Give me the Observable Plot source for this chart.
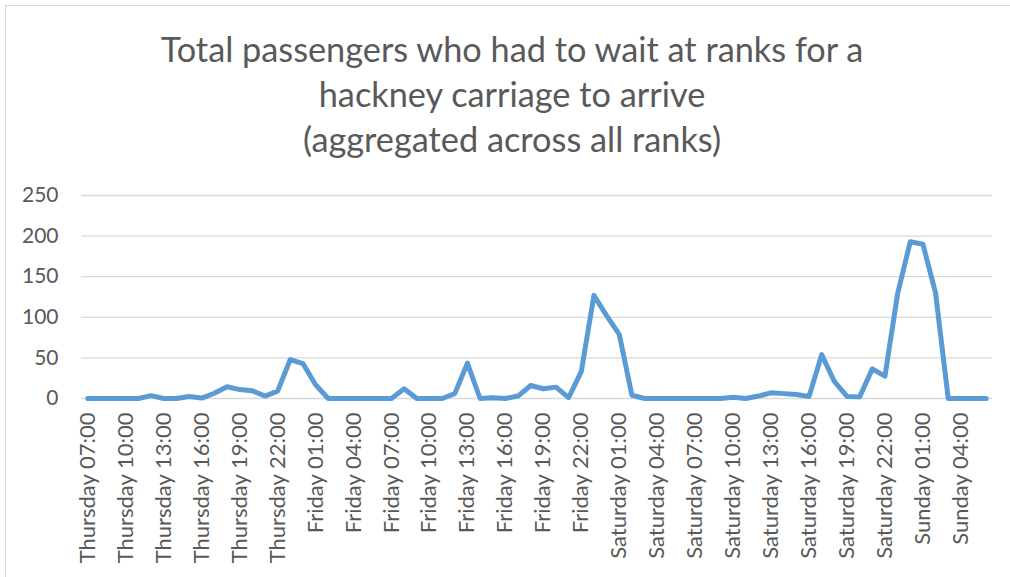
<!DOCTYPE html>
<html>
<head>
<meta charset="utf-8">
<script src="https://cdn.jsdelivr.net/npm/d3@7"></script>
<script src="https://cdn.jsdelivr.net/npm/@observablehq/plot@0.6"></script>
<style>
  html, body { margin: 0; padding: 0; background: #fff; overflow: hidden; }
  #wrap { position: relative; width: 1010px; height: 577px; }
  #frame { position: absolute; left: 5px; top: 5px; width: 1020px; height: 590px; border: 1px solid #d9d9d9; box-sizing: border-box; }
  #title { position: absolute; left: 14px; top: 26px; width: 996px; text-align: center; font-family: Lato, "Open Sans", sans-serif; font-size: 34.3px; line-height: 45px; color: #595959; z-index: 2; }
  #chart { position: absolute; left: 0; top: 0; }
</style>
</head>
<body>
<div id="wrap">
  <div id="frame"></div>
  <div id="chart"></div>
  <div id="title">Total passengers who had to wait at ranks for a<br>hackney carriage to arrive<br>(aggregated across all ranks)</div>
</div>
<script>
const categories = [
  "Thursday 07:00","Thursday 08:00","Thursday 09:00","Thursday 10:00","Thursday 11:00","Thursday 12:00",
  "Thursday 13:00","Thursday 14:00","Thursday 15:00","Thursday 16:00","Thursday 17:00","Thursday 18:00",
  "Thursday 19:00","Thursday 20:00","Thursday 21:00","Thursday 22:00","Thursday 23:00","Friday 00:00",
  "Friday 01:00","Friday 02:00","Friday 03:00","Friday 04:00","Friday 05:00","Friday 06:00",
  "Friday 07:00","Friday 08:00","Friday 09:00","Friday 10:00","Friday 11:00","Friday 12:00",
  "Friday 13:00","Friday 14:00","Friday 15:00","Friday 16:00","Friday 17:00","Friday 18:00",
  "Friday 19:00","Friday 20:00","Friday 21:00","Friday 22:00","Friday 23:00","Saturday 00:00",
  "Saturday 01:00","Saturday 02:00","Saturday 03:00","Saturday 04:00","Saturday 05:00","Saturday 06:00",
  "Saturday 07:00","Saturday 08:00","Saturday 09:00","Saturday 10:00","Saturday 11:00","Saturday 12:00",
  "Saturday 13:00","Saturday 14:00","Saturday 15:00","Saturday 16:00","Saturday 17:00","Saturday 18:00",
  "Saturday 19:00","Saturday 20:00","Saturday 21:00","Saturday 22:00","Saturday 23:00","Sunday 00:00",
  "Sunday 01:00","Sunday 02:00","Sunday 03:00","Sunday 04:00","Sunday 05:00","Sunday 06:00"
];

const passengers = [
  0, 0, 0, 0, 0, 3.5,
  0, 0, 2.5, 0.5, 6.5, 14.5,
  11, 9.5, 3, 9, 48, 43,
  17, 0, 0, 0, 0, 0,
  0, 12, 0, 0, 0, 6,
  43.5, 0, 1, 0, 3, 16,
  12, 14, 1, 33, 127, 102,
  79, 4, 0, 0, 0, 0,
  0, 0, 0, 1.5, 0, 3,
  7, 6, 5, 2.5, 54, 21,
  2.5, 2, 36.5, 27.5, 129, 193,
  190, 130, 0, 0, 0, 0
];

const tickLabels = [
  "Thursday 07:00","Thursday 10:00","Thursday 13:00","Thursday 16:00","Thursday 19:00","Thursday 22:00",
  "Friday 01:00","Friday 04:00","Friday 07:00","Friday 10:00","Friday 13:00","Friday 16:00",
  "Friday 19:00","Friday 22:00","Saturday 01:00","Saturday 04:00","Saturday 07:00","Saturday 10:00",
  "Saturday 13:00","Saturday 16:00","Saturday 19:00","Saturday 22:00","Sunday 01:00","Sunday 04:00"
];

const yTicks = [0, 50, 100, 150, 200, 250];

const rows = categories.map((c, i) => ({cat: c, value: passengers[i]}));

const chart = Plot.plot({
  width: 1010,
  height: 577,
  marginTop: 195,
  marginBottom: 179,
  marginLeft: 81,
  marginRight: 18,
  style: {background: "transparent", color: "#595959", fontFamily: "Lato, 'Open Sans', sans-serif", fontSize: "21px", overflow: "visible"},
  x: {type: "point", domain: categories, padding: 0.5},
  y: {domain: [0, 250]},
  marks: [
    Plot.gridY(yTicks, {stroke: "#d9d9d9", strokeOpacity: 1, strokeWidth: 1.3}),
    Plot.axisY(yTicks, {tickSize: 0, tickPadding: 23, fontSize: 21, label: null}),
    Plot.axisX(tickLabels, {tickSize: 0, tickPadding: 14, tickRotate: -90, fontSize: 22, label: null}),
    Plot.line(rows, {x: "cat", y: "value", stroke: "#5b9bd5", strokeWidth: 5, strokeLinejoin: "round", strokeLinecap: "round"})
  ]
});
document.getElementById("chart").appendChild(chart);
</script>
</body>
</html>
